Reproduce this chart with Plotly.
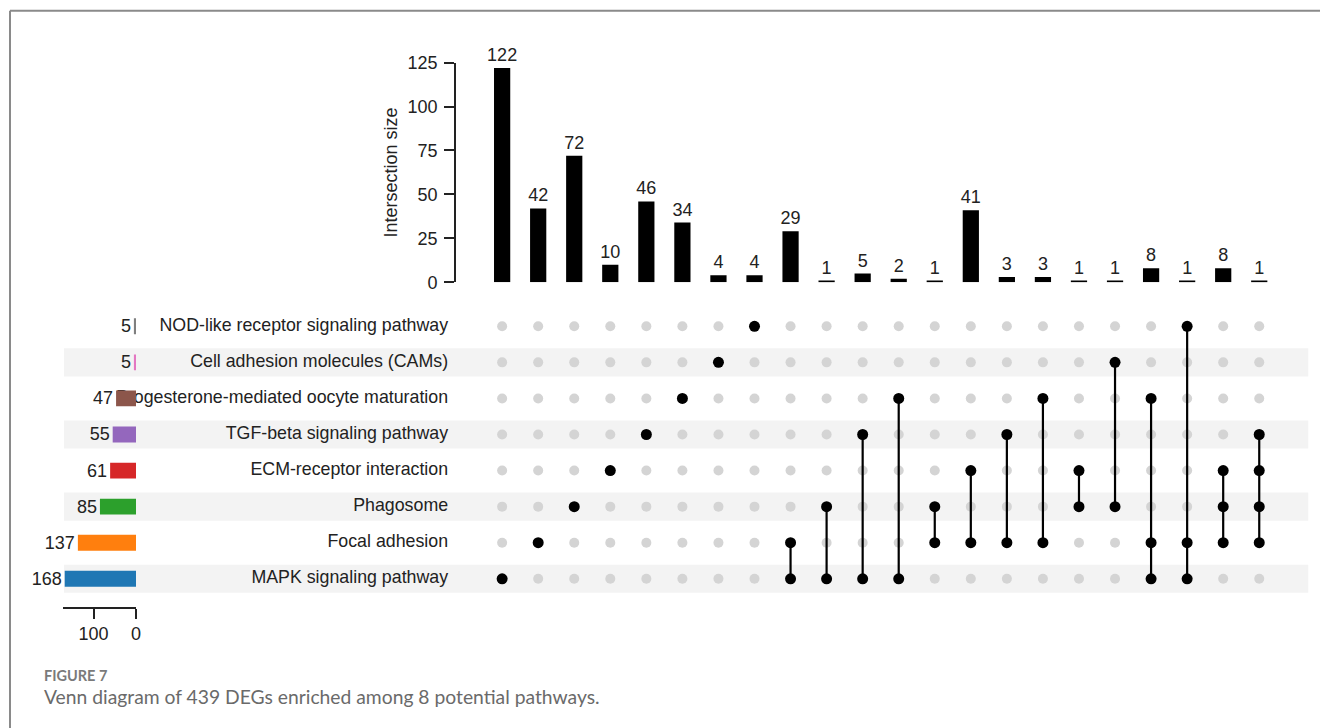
import plotly.graph_objects as go

# ---------------- data ----------------
set_names = [
    "MAPK signaling pathway",
    "Focal adhesion",
    "Phagosome",
    "ECM-receptor interaction",
    "TGF-beta signaling pathway",
    "Progesterone-mediated oocyte maturation",
    "Cell adhesion molecules (CAMs)",
    "NOD-like receptor signaling pathway",
]
set_sizes = [168, 137, 85, 61, 55, 47, 5, 5]
set_colors = ["#1f77b4", "#ff7f0e", "#2ca02c", "#d62728",
              "#9467bd", "#8c564b", "#e377c2", "#7f7f7f"]

intersection_sizes = [122, 42, 72, 10, 46, 34, 4, 4, 29, 1, 5, 2, 1, 41, 3, 3, 1, 1, 8, 1, 8, 1]
# members of each intersection (indices into set_names)
intersection_members = [
    [0], [1], [2], [3], [4], [5], [6], [7],
    [0, 1], [0, 2], [0, 4], [0, 5],
    [1, 2], [1, 3], [1, 4], [1, 5],
    [2, 3], [2, 6],
    [0, 1, 5], [0, 1, 7],
    [1, 2, 3], [1, 2, 3, 4],
]

intersection_ticks = [0, 25, 50, 75, 100, 125]
set_size_ticks = [100, 0]

caption_title = "FIGURE 7"
caption_text = "Venn diagram of 439 DEGs enriched among 8 potential pathways."

# ---------------- geometry helpers ----------------
W, H = 1320, 728
SX, SY, BY = 0.996, 0.974, 9.3   # empirical screenshot calibration
def px(x):
    return (x / SX) / W
def py(y):
    return 1 - ((y - BY) / SY) / H

FONT = "Arial, Liberation Sans, sans-serif"
TXT = "#222222"
FS = 18
n_cols = len(intersection_sizes)
n_sets = len(set_names)
cols = list(range(n_cols))

fig = go.Figure()

# intersection size bars
fig.add_trace(go.Bar(
    x=cols, y=intersection_sizes, width=0.45,
    marker=dict(color="black", line=dict(width=0)),
    text=[str(v) for v in intersection_sizes], textposition="outside",
    textfont=dict(size=FS, color=TXT, family=FONT),
    constraintext="none", cliponaxis=False,
    xaxis="x", yaxis="y", showlegend=False, hoverinfo="skip",
))

# matrix: gray background dots
gx, gy = [], []
for c in cols:
    for s in range(n_sets):
        if s not in intersection_members[c]:
            gx.append(c)
            gy.append(s)
fig.add_trace(go.Scatter(
    x=gx, y=gy, mode="markers",
    marker=dict(size=10, color="#d4d4d4"),
    xaxis="x2", yaxis="y2", showlegend=False, hoverinfo="skip",
))
# connecting lines
lx, ly = [], []
for c, mem in zip(cols, intersection_members):
    if len(mem) > 1:
        lx += [c, c, None]
        ly += [min(mem), max(mem), None]
fig.add_trace(go.Scatter(
    x=lx, y=ly, mode="lines", line=dict(color="black", width=2.2),
    xaxis="x2", yaxis="y2", showlegend=False, hoverinfo="skip",
))
# active dots
ax_, ay_ = [], []
for c, mem in zip(cols, intersection_members):
    for s in mem:
        ax_.append(c)
        ay_.append(s)
fig.add_trace(go.Scatter(
    x=ax_, y=ay_, mode="markers",
    marker=dict(size=11, color="black"),
    xaxis="x2", yaxis="y2", showlegend=False, hoverinfo="skip",
))

# row labels on their own subplot (drawn below the set-size bars)
fig.add_trace(go.Scatter(
    x=[1.0] * n_sets, y=list(range(n_sets)), mode="text",
    text=set_names, textposition="middle left",
    textfont=dict(size=17.8, color=TXT, family=FONT),
    cliponaxis=False,
    xaxis="x3", yaxis="y3", showlegend=False, hoverinfo="skip",
))

# set size bars
fig.add_trace(go.Bar(
    x=set_sizes, y=list(range(n_sets)), orientation="h", width=0.44,
    marker=dict(color=set_colors, line=dict(width=0)),
    text=[str(v) for v in set_sizes], textposition="outside",
    textfont=dict(size=FS, color=TXT, family=FONT),
    constraintext="none", cliponaxis=False,
    xaxis="x4", yaxis="y4", showlegend=False, hoverinfo="skip",
))

# stripes behind rows
shapes = []
for s in range(0, n_sets, 2):
    shapes.append(dict(
        type="rect", xref="paper", yref="y2", layer="below",
        x0=px(64), x1=px(1308), y0=s - 0.39, y1=s + 0.39,
        fillcolor="#f3f3f3", line=dict(width=0),
    ))
# frame lines
shapes.append(dict(type="line", xref="paper", yref="paper",
                   x0=px(10), x1=1.02, y0=py(10), y1=py(10),
                   line=dict(color="#8a8a8a", width=2)))
shapes.append(dict(type="line", xref="paper", yref="paper",
                   x0=px(10), x1=px(10), y0=py(10), y1=-0.05,
                   line=dict(color="#8a8a8a", width=2)))

annotations = [
    dict(text="<b>" + caption_title + "</b>", xref="paper", yref="paper",
         x=px(42), y=py(676), xanchor="left", yanchor="middle",
         showarrow=False,
         font=dict(size=14.5, color="#7a7a7a", family="Lato, sans-serif")),
    dict(text=caption_text, xref="paper", yref="paper",
         x=px(42), y=py(697), xanchor="left", yanchor="middle",
         showarrow=False,
         font=dict(size=19.3, color="#6a6a6a", family="Lato, sans-serif")),
]

matrix_dom = [py(597), py(308)]
fig.update_layout(
    width=W, height=H,
    margin=dict(l=0, r=0, t=0, b=0),
    paper_bgcolor="white", plot_bgcolor="rgba(0,0,0,0)",
    font=dict(family=FONT, color=TXT, size=FS),
    shapes=shapes, annotations=annotations,
    xaxis=dict(domain=[px(484), px(1277)], range=[-0.5, n_cols - 0.5],
               showticklabels=False, showgrid=False, zeroline=False,
               showline=False, ticks="", anchor="y"),
    yaxis=dict(domain=[py(282), py(62)], range=[0, 125],
               anchor="free", position=px(455),
               tickvals=intersection_ticks, ticks="outside", ticklen=10,
               tickwidth=2, tickcolor="#222222",
               showline=True, linecolor="#222222", linewidth=2,
               showgrid=False, zeroline=False,
               tickfont=dict(size=FS, color=TXT),
               ticklabelstandoff=3,
               title=dict(text="Intersection size",
                          font=dict(size=FS, color=TXT), standoff=4)),
    xaxis2=dict(domain=[px(484), px(1277)], range=[-0.5, n_cols - 0.5],
                showticklabels=False, showgrid=False, zeroline=False,
                showline=False, ticks="", anchor="y2"),
    yaxis2=dict(domain=matrix_dom, range=[-0.5, n_sets - 0.5],
                showticklabels=False, showgrid=False, zeroline=False,
                showline=False, ticks="", anchor="x2"),
    xaxis3=dict(domain=[px(140), px(448)], range=[0, 1],
                visible=False, anchor="y3"),
    yaxis3=dict(domain=matrix_dom, range=[-0.5, n_sets - 0.5],
                visible=False, anchor="x3"),
    xaxis4=dict(domain=[px(63), px(136)], range=[172, 0],
                anchor="free", position=py(608),
                tickvals=set_size_ticks, ticks="outside", ticklen=10,
                tickwidth=2, tickcolor="#222222",
                showline=True, linecolor="#222222", linewidth=2,
                showgrid=False, zeroline=False,
                tickfont=dict(size=FS, color=TXT)),
    yaxis4=dict(domain=matrix_dom, range=[-0.5, n_sets - 0.5],
                showticklabels=False, showgrid=False, zeroline=False,
                showline=False, ticks="", anchor="x4"),
)

page_js = (
    "document.body.style.margin='0';"
    "document.body.style.padding='0';"
    "document.body.style.overflow='hidden';"
    "document.documentElement.style.overflow='hidden';"
)
fig.write_html("out.html", post_script=page_js,
               config={"displayModeBar": False})
